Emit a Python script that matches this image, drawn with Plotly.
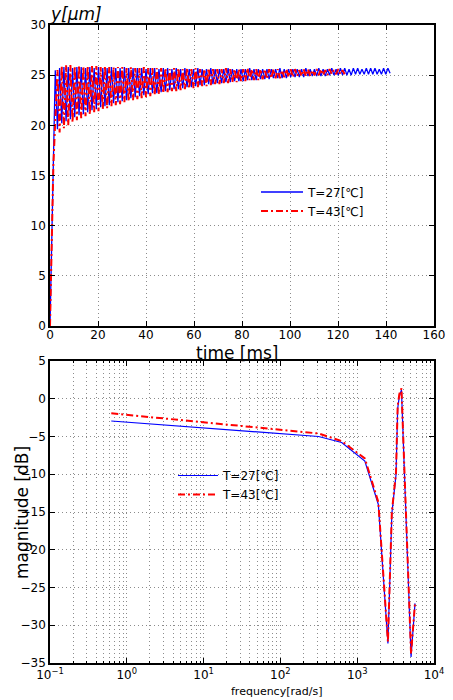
import numpy as np
import plotly.graph_objects as go

# ---------------- top: step response ----------------
PERIOD = 1.8  # ms, oscillation period
blue_start_t = [0.0, 1.2]
blue_start_y = [0.0, 14.0]
blue_first_peak_t = 2.2
blue_hi = [25.5, 25.7, 25.8, 25.8, 25.7, 25.8, 25.8, 25.7, 25.8, 25.7,
           25.8, 25.7, 25.7, 25.8, 25.7, 25.7, 25.8, 25.7, 25.7, 25.7,
           25.7, 25.6, 25.7, 25.7, 25.6, 25.7, 25.7, 25.6, 25.7, 25.6,
           25.7, 25.6, 25.6, 25.7, 25.6, 25.6, 25.7, 25.6, 25.6, 25.6,
           25.7, 25.6, 25.6, 25.6, 25.6, 25.7, 25.6, 25.6, 25.6, 25.6,
           25.6, 25.6, 25.7, 25.6, 25.6, 25.6, 25.6, 25.6, 25.7, 25.6,
           25.6, 25.7, 25.6, 25.6, 25.7, 25.6, 25.7, 25.7, 25.6, 25.7,
           25.7, 25.6, 25.7, 25.7, 25.7, 25.6, 25.7, 25.7]
blue_lo = [19.6, 20.2, 20.4, 20.6, 20.8, 21.0, 21.1, 21.3, 21.5, 21.6,
           21.8, 21.9, 22.0, 22.2, 22.3, 22.4, 22.5, 22.7, 22.8, 22.9,
           23.0, 23.1, 23.2, 23.2, 23.3, 23.4, 23.5, 23.6, 23.6, 23.7,
           23.8, 23.8, 23.9, 24.0, 24.0, 24.1, 24.1, 24.2, 24.2, 24.3,
           24.3, 24.4, 24.4, 24.4, 24.5, 24.5, 24.5, 24.6, 24.6, 24.6,
           24.7, 24.7, 24.7, 24.7, 24.8, 24.8, 24.8, 24.8, 24.9, 24.9,
           24.9, 24.9, 24.9, 25.0, 25.0, 25.0, 25.0, 25.0, 25.0, 25.1,
           25.1, 25.1, 25.1, 25.1, 25.1, 25.1, 25.1, 25.2]

red_start_t = [0.0, 1.4]
red_start_y = [0.0, 16.0]
red_first_peak_t = 3.1
red_hi = [25.5, 25.9, 26.0, 26.0, 25.9, 26.0, 25.9, 25.9, 25.9, 25.9,
          25.8, 25.9, 25.8, 25.8, 25.8, 25.8, 25.7, 25.8, 25.7, 25.7,
          25.8, 25.7, 25.7, 25.7, 25.7, 25.7, 25.6, 25.7, 25.7, 25.6,
          25.7, 25.6, 25.7, 25.6, 25.6, 25.7, 25.6, 25.6, 25.6, 25.7,
          25.6, 25.6, 25.6, 25.6, 25.7, 25.6, 25.6, 25.6, 25.6, 25.6,
          25.6, 25.6, 25.5, 25.6, 25.6, 25.6, 25.5, 25.6, 25.6, 25.5,
          25.6, 25.6, 25.5, 25.6, 25.5, 25.6, 25.5]
red_lo = [19.3, 19.7, 20.0, 20.3, 20.5, 20.7, 20.9, 21.1, 21.3, 21.4,
          21.6, 21.7, 21.9, 22.0, 22.1, 22.3, 22.4, 22.5, 22.6, 22.7,
          22.8, 22.9, 23.0, 23.1, 23.2, 23.3, 23.4, 23.4, 23.5, 23.6,
          23.7, 23.7, 23.8, 23.9, 23.9, 24.0, 24.1, 24.1, 24.2, 24.2,
          24.3, 24.3, 24.4, 24.4, 24.5, 24.5, 24.5, 24.6, 24.6, 24.7,
          24.7, 24.7, 24.8, 24.8, 24.8, 24.9, 24.9, 24.9, 24.9, 25.0,
          25.0, 25.0, 25.0, 25.1, 25.1, 25.1, 25.1]

# ---------------- bottom: Bode magnitude ----------------
freq = [0.628, 314, 628, 1257, 1885, 2513, 2827, 3200, 3365, 3533, 3770, 5027, 5655]
mag_27 = [-2.95, -5.0, -5.8, -8.25, -14.0, -32.4, -15.2, -10.1, -1.3, 0.3, 1.16, -34.2, -27.1]
mag_43 = [-1.93, -4.6, -5.6, -7.9, -13.7, -32.2, -15.0, -9.8, -1.0, 0.6, 1.38, -33.8, -27.1]

label_27 = "T=27[℃]"
label_43 = "T=43[℃]"
x_ticks_log = [0.1, 1, 10, 100, 1000, 10000]
x_ticks_log_text = ["10<sup>−1</sup>", "10<sup>0</sup>", "10<sup>1</sup>",
                    "10<sup>2</sup>", "10<sup>3</sup>", "10<sup>4</sup>"]


def oscillation(start_t, start_y, first_peak_t, hi, lo):
    t = list(start_t)
    y = list(start_y)
    for k in range(max(len(hi), len(lo))):
        if k < len(hi):
            t.append(first_peak_t + PERIOD * k)
            y.append(hi[k])
        if k < len(lo):
            t.append(first_peak_t + PERIOD * k + PERIOD / 2)
            y.append(lo[k])
    return t, y


bt, by = oscillation(blue_start_t, blue_start_y, blue_first_peak_t, blue_hi, blue_lo)
rt, ry = oscillation(red_start_t, red_start_y, red_first_peak_t, red_hi, red_lo)

BLUE = "#0000ff"
RED = "#ff0000"
RED_DASH = "7px,3px,2px,3px"
FONT = "DejaVu Sans"
GRID = "#8c8c8c"
GRID_DASH = "1px,3px"

fig = go.Figure()
fig.add_trace(go.Scatter(x=bt, y=by, mode="lines", name=label_27,
                         line=dict(color=BLUE, width=1.3),
                         xaxis="x", yaxis="y", legend="legend"))
fig.add_trace(go.Scatter(x=rt, y=ry, mode="lines", name=label_43,
                         line=dict(color=RED, width=2, dash=RED_DASH),
                         xaxis="x", yaxis="y", legend="legend"))
fig.add_trace(go.Scatter(x=freq, y=mag_27, mode="lines", name=label_27,
                         line=dict(color=BLUE, width=1.2),
                         xaxis="x2", yaxis="y2", legend="legend2"))
fig.add_trace(go.Scatter(x=freq, y=mag_43, mode="lines", name=label_43,
                         line=dict(color=RED, width=2, dash=RED_DASH),
                         xaxis="x2", yaxis="y2", legend="legend2"))

axis_common = dict(showline=True, linecolor="black", linewidth=1.5, mirror="allticks",
                   ticks="inside", ticklen=5, tickcolor="black", tickwidth=1,
                   showgrid=True, gridcolor=GRID, griddash=GRID_DASH, gridwidth=1,
                   zeroline=False, automargin=False,
                   tickfont=dict(family=FONT, size=12, color="black"))

L, R, T, B = 50, 19, 25, 37
H = 700
plot_h = H - T - B
plot_w = 453 - L - R
top_dom = [(663 - 326) / plot_h, 1.0]
bot_dom = [0.0, (663 - 361) / plot_h]

minor_log_vals = [m * 10.0 ** e for e in range(-1, 4) for m in range(2, 10)]

fig.update_layout(
    width=453, height=700,
    margin=dict(l=L, r=R, t=T, b=B, autoexpand=False),
    paper_bgcolor="white", plot_bgcolor="white",
    font=dict(family=FONT, size=12, color="black"),
    showlegend=True,
    xaxis=dict(domain=[0, 1], anchor="y", range=[0, 160], dtick=20, tick0=0,
               ticklabelstandoff=-3, **axis_common),
    yaxis=dict(domain=top_dom, anchor="x", range=[0, 30], dtick=5, tick0=0, **axis_common),
    xaxis2=dict(domain=[0, 1], anchor="y2", type="log", range=[-1, 4],
                tickmode="array", tickvals=x_ticks_log, ticktext=x_ticks_log_text,
                minor=dict(tickmode="array", tickvals=minor_log_vals, ticks="inside", ticklen=2,
                           tickcolor="black", showgrid=True, gridcolor=GRID, griddash=GRID_DASH,
                           gridwidth=1),
                **axis_common),
    yaxis2=dict(domain=bot_dom, anchor="x2", range=[-35, 5], dtick=5, tick0=0, **axis_common),
    legend=dict(x=(256 - L) / plot_w, y=(663 - 177.5) / plot_h, xanchor="left", yanchor="top",
                bgcolor="rgba(0,0,0,0)", borderwidth=0, font=dict(family=FONT, size=12),
                tracegroupgap=0, itemwidth=42),
    legend2=dict(x=(173 - L) / plot_w, y=(663 - 461) / plot_h, xanchor="left", yanchor="top",
                 bgcolor="rgba(0,0,0,0)", borderwidth=0, font=dict(family=FONT, size=12),
                 tracegroupgap=0, itemwidth=40),
    annotations=[
        dict(text="<i>y[μm]</i>", xref="paper", yref="paper",
             x=(76 - L) / plot_w, y=(663 - 14) / plot_h, xanchor="center", yanchor="middle",
             showarrow=False, font=dict(family=FONT, size=17)),
        dict(text="time [ms]", xref="paper", yref="paper",
             x=(237.5 - L) / plot_w, y=(663 - 353) / plot_h, xanchor="center", yanchor="middle",
             showarrow=False, font=dict(family=FONT, size=17)),
        dict(text="magnitude [dB]", xref="paper", yref="paper", textangle=-90,
             x=(22 - L) / plot_w, y=(663 - 513) / plot_h, xanchor="center", yanchor="middle",
             showarrow=False, font=dict(family=FONT, size=17)),
        dict(text="frequency[rad/s]", xref="paper", yref="paper",
             x=(276.5 - L) / plot_w, y=(663 - 691) / plot_h, xanchor="center", yanchor="middle",
             showarrow=False, font=dict(family=FONT, size=11)),
    ],
)

fig.write_html("out.html")
